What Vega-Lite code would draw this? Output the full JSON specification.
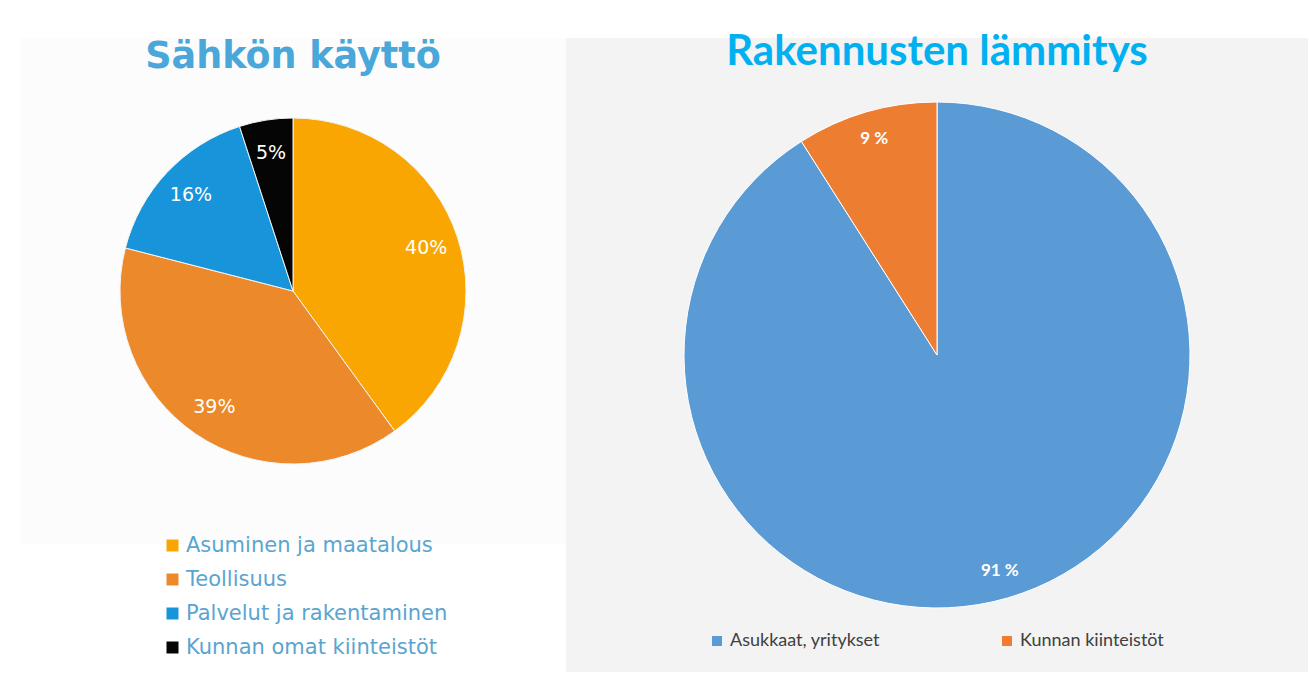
{
  "$schema": "https://vega.github.io/schema/vega-lite/v6.json",
  "background": "#ffffff",
  "padding": {"left": 20, "top": 31, "right": 0, "bottom": 0},
  "spacing": 0,
  "bounds": "flush",
  "config": {"view": {"stroke": null}},
  "resolve": {"scale": {"color": "independent", "theta": "independent"}, "legend": {"color": "independent"}},
  "hconcat": [
    {
      "width": 546,
      "height": 506,
      "view": {"fill": "#fcfcfc", "stroke": null},
      "title": {"text": "Sähkön käyttö", "font": "DejaVu Sans", "fontSize": 36.5, "fontWeight": "bold", "color": "#4aa7d9", "anchor": "middle", "offset": -66.5, "baseline": "alphabetic"},
      "data": {"values": [
        {"k": "Asuminen ja maatalous", "v": 40, "t": "40%", "i": 1},
        {"k": "Teollisuus", "v": 39, "t": "39%", "i": 2},
        {"k": "Palvelut ja rakentaminen", "v": 16, "t": "16%", "i": 3},
        {"k": "Kunnan omat kiinteistöt", "v": 5, "t": "5%", "i": 4}
      ]},
      "encoding": {
        "theta": {"field": "v", "type": "quantitative", "stack": true},
        "order": {"field": "i", "type": "quantitative"}
      },
      "layer": [
        {
          "mark": {"type": "arc", "radius": 173, "stroke": "#f4f4f4", "strokeWidth": 1},
          "encoding": {
            "color": {
              "field": "k", "type": "nominal",
              "scale": {"domain": ["Asuminen ja maatalous", "Teollisuus", "Palvelut ja rakentaminen", "Kunnan omat kiinteistöt"], "range": ["#f9a602", "#ec8a2b", "#1894da", "#050505"]},
              "legend": {"orient": "none", "legendX": 142, "legendY": 497, "direction": "vertical", "title": null, "symbolType": "square", "symbolSize": 144, "symbolStrokeWidth": 0, "labelFont": "DejaVu Sans", "labelFontSize": 21, "labelColor": "#5aa5d0", "rowPadding": 12, "labelOffset": 3, "padding": 0, "labelLimit": 400}
            }
          }
        },
        {
          "mark": {"type": "text", "radius": 140, "font": "DejaVu Sans", "fontSize": 19, "fill": "#ffffff"},
          "encoding": {"text": {"field": "t"}, "detail": {"field": "k"}}
        }
      ]
    },
    {
      "width": 742,
      "height": 634,
      "view": {"fill": "#f3f3f3", "stroke": null},
      "title": {"text": "Rakennusten lämmitys", "font": "Lato", "fontSize": 42, "fontWeight": "bold", "color": "#00b0f0", "anchor": "middle", "offset": -69, "baseline": "alphabetic"},
      "data": {"values": [
        {"k": "Asukkaat, yritykset", "v": 91, "t": "91 %", "i": 1},
        {"k": "Kunnan kiinteistöt", "v": 9, "t": "9 %", "i": 2}
      ]},
      "encoding": {
        "theta": {"field": "v", "type": "quantitative", "stack": true},
        "order": {"field": "i", "type": "quantitative"}
      },
      "layer": [
        {
          "mark": {"type": "arc", "radius": 253, "stroke": "#ffffff", "strokeWidth": 1},
          "encoding": {
            "color": {
              "field": "k", "type": "nominal",
              "scale": {"domain": ["Asukkaat, yritykset", "Kunnan kiinteistöt"], "range": ["#5b9bd5", "#ed7d31"]},
              "legend": {"orient": "none", "legendX": 142, "legendY": 594, "direction": "horizontal", "title": null, "symbolType": "square", "symbolSize": 100, "symbolStrokeWidth": 0, "labelFont": "Lato", "labelFontSize": 18, "labelColor": "#404040", "columnPadding": 118, "labelOffset": 4, "padding": 0, "labelLimit": 400}
            }
          }
        },
        {
          "mark": {"type": "text", "radius": 225, "font": "Lato", "fontSize": 17, "fontWeight": "bold", "fill": "#ffffff"},
          "encoding": {"text": {"field": "t"}, "detail": {"field": "k"}}
        }
      ]
    }
  ]
}
